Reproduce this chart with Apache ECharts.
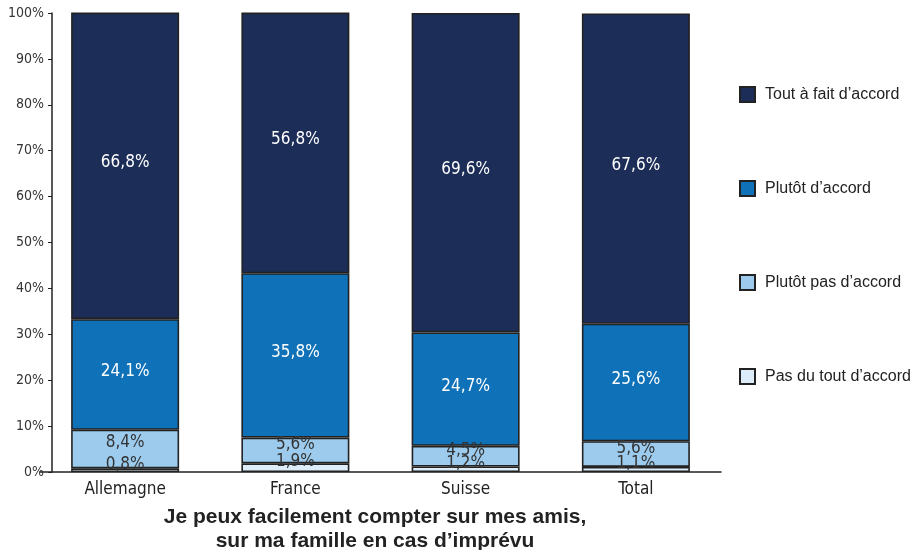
<!DOCTYPE html>
<html>
<head>
<meta charset="utf-8">
<script src="https://cdn.jsdelivr.net/npm/echarts@6/dist/echarts.min.js"></script>
<style>html,body{margin:0;padding:0;background:#fff}#c{width:917px;height:550px}</style>
</head>
<body>
<div id="c"></div>
<script>
var categories = ['Allemagne', 'France', 'Suisse', 'Total'];
var pasDuTout = [0.8, 1.9, 1.2, 1.1];
var plutotPas = [8.4, 5.6, 4.5, 5.6];
var plutot = [24.1, 35.8, 24.7, 25.6];
var toutAFait = [66.8, 56.8, 69.6, 67.6];
var seriesNames = ["Pas du tout d’accord", "Plutôt pas d’accord", "Plutôt d’accord", "Tout à fait d’accord"];
var yTicks = [0, 10, 20, 30, 40, 50, 60, 70, 80, 90, 100];

var narrow = '"Liberation Sans Narrow", "DejaVu Sans Condensed", "Arial Narrow", sans-serif';
var colors = ['#dcedf9', '#9ccbed', '#0f71b8', '#1c2d58'];
var labelColors = ['#333', '#333', '#fff', '#fff'];
var dataSets = [pasDuTout, plutotPas, plutot, toutAFait];
var offsets = [[0, -6], [0, -6], [0, -3], [0, -3]];

function fmt(v) { return v.toFixed(1).replace('.', ',') + '%'; }

var series = dataSets.map(function (d, i) {
  return {
    name: seriesNames[i],
    type: 'bar',
    stack: 'a',
    barWidth: 108,
    data: d,
    itemStyle: { color: colors[i], borderColor: '#222', borderWidth: 1.6 },
    label: {
      show: true,
      position: 'inside',
      offset: offsets[i],
      color: labelColors[i],
      fontFamily: narrow,
      fontSize: 17,
      formatter: function (p) { return fmt(p.value); }
    }
  };
});

var chart = echarts.init(document.getElementById('c'), null, { renderer: 'canvas' });
chart.setOption({
  animation: false,
  backgroundColor: '#fff',
  title: {
    text: 'Je peux facilement compter sur mes amis,\nsur ma famille en cas d’imprévu',
    left: 375,
    textAlign: 'center',
    top: 505,
    padding: 0,
    textStyle: { fontFamily: '"Liberation Sans", Arial, sans-serif', fontWeight: 'bold', fontSize: 21, color: '#222', lineHeight: 24 }
  },
  legend: {
    orient: 'vertical',
    left: 739,
    top: 86,
    padding: 0,
    itemGap: 77,
    itemWidth: 15,
    itemHeight: 15,
    icon: 'rect',
    data: seriesNames.slice().reverse(),
    textStyle: { fontFamily: '"Liberation Sans", Arial, sans-serif', fontSize: 16, color: '#222', padding: [0, 0, 0, 5] }
  },
  grid: { left: 40, right: 196, top: 13, bottom: 78 },
  xAxis: {
    type: 'category',
    data: categories,
    axisLine: { lineStyle: { color: '#222', width: 1.5 } },
    axisTick: { show: false },
    axisLabel: { color: '#222', fontFamily: narrow, fontSize: 17, margin: 9 }
  },
  yAxis: {
    type: 'value',
    min: 0,
    max: 100,
    interval: 10,
    offset: -12,
    splitLine: { show: false },
    axisLine: { show: true, lineStyle: { color: '#222', width: 1.5 } },
    axisTick: { show: true, length: 4, lineStyle: { color: '#222' } },
    axisLabel: {
      color: '#333', fontFamily: narrow, fontSize: 14, margin: 8,
      formatter: function (v) { return yTicks.indexOf(v) >= 0 ? v + '%' : ''; }
    }
  },
  series: series
});
</script>
</body>
</html>
